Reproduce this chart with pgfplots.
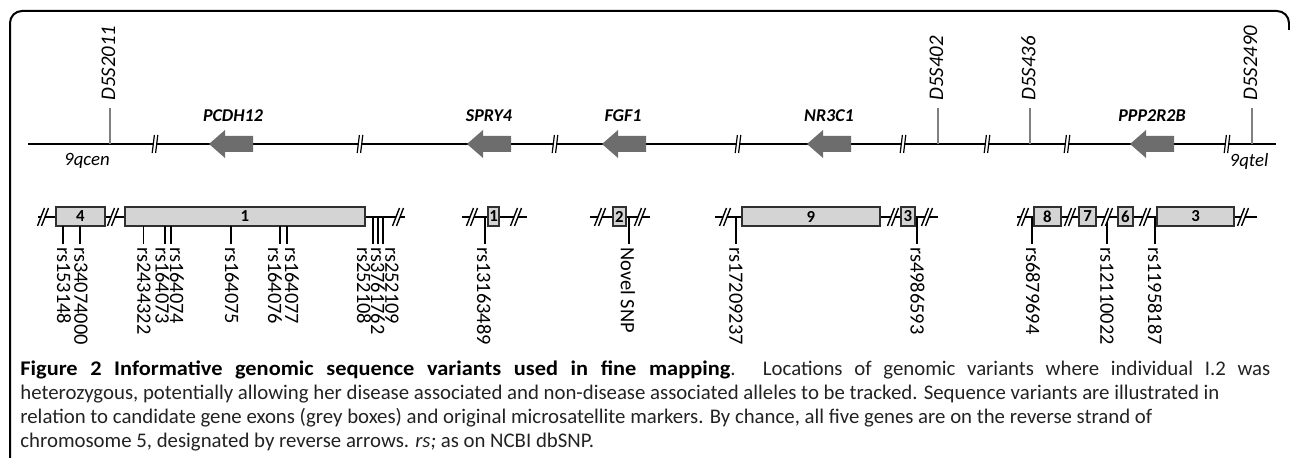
\documentclass[border=0pt]{standalone}
\usepackage{pgfplots}
\pgfplotsset{compat=1.18}
\usepackage{fontspec}
\setmainfont{Carlito}
\newfontfamily\capboldfont[FakeStretch=1.075]{Carlito Bold}
\definecolor{arrowgray}{HTML}{6D6D6D}
\definecolor{boxgray}{HTML}{D4D4D4}
\definecolor{boxedge}{HTML}{303030}
\definecolor{markgray}{HTML}{808080}
\definecolor{captxt}{HTML}{222222}

% break mark on the chromosome line (top row)
\pgfdeclareplotmark{brkA}{%
  \pgfpathmoveto{\pgfqpoint{-1.4pt}{-4.5pt}}%
  \pgfpathlineto{\pgfqpoint{-0.3pt}{4.5pt}}%
  \pgfpathlineto{\pgfqpoint{1.4pt}{4.5pt}}%
  \pgfpathlineto{\pgfqpoint{0.3pt}{-4.5pt}}%
  \pgfpathclose
  \pgfsetfillcolor{white}\pgfusepathqfill
  \pgfsetlinewidth{0.6pt}%
  \pgfpathmoveto{\pgfqpoint{-1.4pt}{-4.5pt}}\pgfpathlineto{\pgfqpoint{-0.3pt}{4.5pt}}%
  \pgfpathmoveto{\pgfqpoint{0.3pt}{-4.5pt}}\pgfpathlineto{\pgfqpoint{1.4pt}{4.5pt}}%
  \pgfusepathqstroke
}
% break mark on the exon rows (bottom row)
\pgfdeclareplotmark{brkB}{%
  \pgfpathmoveto{\pgfqpoint{-2.75pt}{-4.5pt}}%
  \pgfpathlineto{\pgfqpoint{0.75pt}{4.5pt}}%
  \pgfpathlineto{\pgfqpoint{2.75pt}{4.5pt}}%
  \pgfpathlineto{\pgfqpoint{-0.75pt}{-4.5pt}}%
  \pgfpathclose
  \pgfsetfillcolor{white}\pgfusepathqfill
  \pgfsetlinewidth{0.7pt}%
  \pgfpathmoveto{\pgfqpoint{-2.75pt}{-4.5pt}}\pgfpathlineto{\pgfqpoint{0.75pt}{4.5pt}}%
  \pgfpathmoveto{\pgfqpoint{-0.75pt}{-4.5pt}}\pgfpathlineto{\pgfqpoint{2.75pt}{4.5pt}}%
  \pgfusepathqstroke
}

\newcommand{\marker}[2]{%
  \addplot[markgray, line width=0.75pt] coordinates {(#1,108) (#1,144)};
  \node[rotate=90, anchor=west, inner sep=0pt, font=\fontsize{10.4}{12}\selectfont\itshape] at (axis cs:#1-1.5,101) {#2};
}
\newcommand{\exon}[3]{%
  \addplot[draw=boxedge, fill=boxgray, line width=0.9pt] coordinates {(#1,207) (#2,207) (#2,226) (#1,226)} -- cycle;
  \node[inner sep=0pt, font=\fontsize{8.4}{10}\selectfont\bfseries] at (axis cs:{(#1+#2)/2},216.5) {#3};
}
\newcommand{\snp}[4]{%
  \addplot[black, line width=0.9pt] coordinates {(#1,#2) (#1,244)};
  \node[rotate=-90, anchor=west, inner sep=0pt, font=\fontsize{10.2}{12}\selectfont] at (axis cs:#3,247) {#4};
}
\newcommand{\genelab}[2]{%
  \node[inner sep=0pt, font=\fontsize{9}{10}\selectfont\bfseries\itshape] at (axis cs:#1,116) {#2};
}

\begin{document}
\begin{tikzpicture}
\begin{axis}[
  x=0.5pt, y=0.5pt, y dir=reverse,
  xmin=0, xmax=1290, ymin=0, ymax=458,
  hide axis, clip=false, anchor=south west, at={(0pt,0pt)},
]
% frame
\draw[black, line width=1pt, rounded corners=6pt]
  (axis cs:10,458) -- (axis cs:10,11) -- (axis cs:1289,11) -- (axis cs:1289,30);

% chromosome line
\addplot[black, line width=1.2pt] coordinates {(28,144) (1276,144)};

% microsatellite markers
\marker{110}{D5S2011}
\marker{938}{D5S402}
\marker{1030}{D5S436}
\marker{1252}{D5S2490}

% genes (reverse arrows)
\addplot[draw=none, fill=arrowgray] coordinates {(209,144) (225,130) (225,136) (253,136) (253,152) (225,152) (225,158)} -- cycle;
\addplot[draw=none, fill=arrowgray] coordinates {(467,144) (483,130) (483,136) (511,136) (511,152) (483,152) (483,158)} -- cycle;
\addplot[draw=none, fill=arrowgray] coordinates {(602,144) (618,130) (618,136) (646,136) (646,152) (618,152) (618,158)} -- cycle;
\addplot[draw=none, fill=arrowgray] coordinates {(807,144) (823,130) (823,136) (851,136) (851,152) (823,152) (823,158)} -- cycle;
\addplot[draw=none, fill=arrowgray] coordinates {(1130,144) (1146,130) (1146,136) (1174,136) (1174,152) (1146,152) (1146,158)} -- cycle;
\genelab{233}{PCDH12}
\genelab{489}{SPRY4}
\genelab{623}{FGF1}
\genelab{829}{NR3C1}
\genelab{1152}{PPP2R2B}

% breaks on the chromosome line
\addplot[only marks, mark=brkA, black] coordinates {(155,144) (360,144) (555,144) (738,144) (903,144) (987,144) (1067,144) (1227,144)};

\node[inner sep=0pt, font=\fontsize{9.4}{11}\selectfont\itshape] at (axis cs:87,161) {9qcen};
\node[inner sep=0pt, font=\fontsize{9.4}{11}\selectfont\itshape] at (axis cs:1249,161) {9qtel};

% exon rows
\addplot[black, line width=1pt] coordinates {(38,217) (405,217)};
\addplot[black, line width=1pt] coordinates {(462,217) (527,217)};
\addplot[black, line width=1pt] coordinates {(590,217) (650,217)};
\addplot[black, line width=1pt] coordinates {(715,217) (938,217)};
\addplot[black, line width=1pt] coordinates {(1017,217) (1257,217)};

\addplot[only marks, mark=brkB, black] coordinates {(43,217) (113,217) (398,217) (472,217) (516,217) (600,217) (640,217) (725,217) (893,217) (927,217) (1023,217) (1070,217) (1107,217) (1145,217) (1243,217)};

\exon{56}{105}{4}
\exon{125}{365}{1}
\exon{488}{499}{1}
\exon{613}{626}{2}
\exon{742}{880}{9}
\exon{901}{915}{3}
\exon{1034}{1061}{8}
\exon{1079}{1096}{7}
\exon{1118}{1133}{6}
\exon{1157}{1234}{3}

% sequence variants
\snp{63}{226}{64}{rs153148}
\snp{80}{226}{81}{rs34074000}
\snp{143.5}{226}{144}{rs2434322}
\snp{165}{226}{162.5}{rs164073}
\snp{171}{226}{177}{rs164074}
\snp{231}{226}{232}{rs164075}
\snp{280}{226}{275}{rs164076}
\snp{287}{226}{292}{rs164077}
\snp{373}{217}{364}{rs252108}
\snp{378}{217}{378}{rs3761762}
\snp{383}{217}{392}{rs252109}
\snp{485}{217}{484}{rs13163489}
\snp{629}{217}{628}{Novel SNP}
\snp{736}{217}{736}{rs17209237}
\snp{917}{217}{917.5}{rs4986593}
\snp{1032}{217}{1033}{rs6879694}
\snp{1107}{217}{1107}{rs12110022}
\snp{1155}{217}{1155}{rs11958187}

% caption
\node[anchor=north west, inner sep=0pt, align=left, text=captxt,
      font=\fontsize{10.4}{10}\selectfont] at (axis cs:20,360) {%
\makebox[625pt][s]{\textcolor{black}{\capboldfont Figure 2 Informative genomic sequence variants used in fine mapping}. Locations of genomic variants where individual I.2 was}\\[2pt]
heterozygous, potentially allowing her disease associated and non-disease associated alleles to be tracked. Sequence variants are illustrated in\\[2pt]
relation to candidate gene exons (grey boxes) and original microsatellite markers. By chance, all five genes are on the reverse strand of\\[2pt]
chromosome 5, designated by reverse arrows. \textit{rs;} as on NCBI dbSNP.};
\end{axis}
\pgfresetboundingbox
\useasboundingbox (0pt,0pt) rectangle (645pt,229pt);
\end{tikzpicture}
\end{document}
